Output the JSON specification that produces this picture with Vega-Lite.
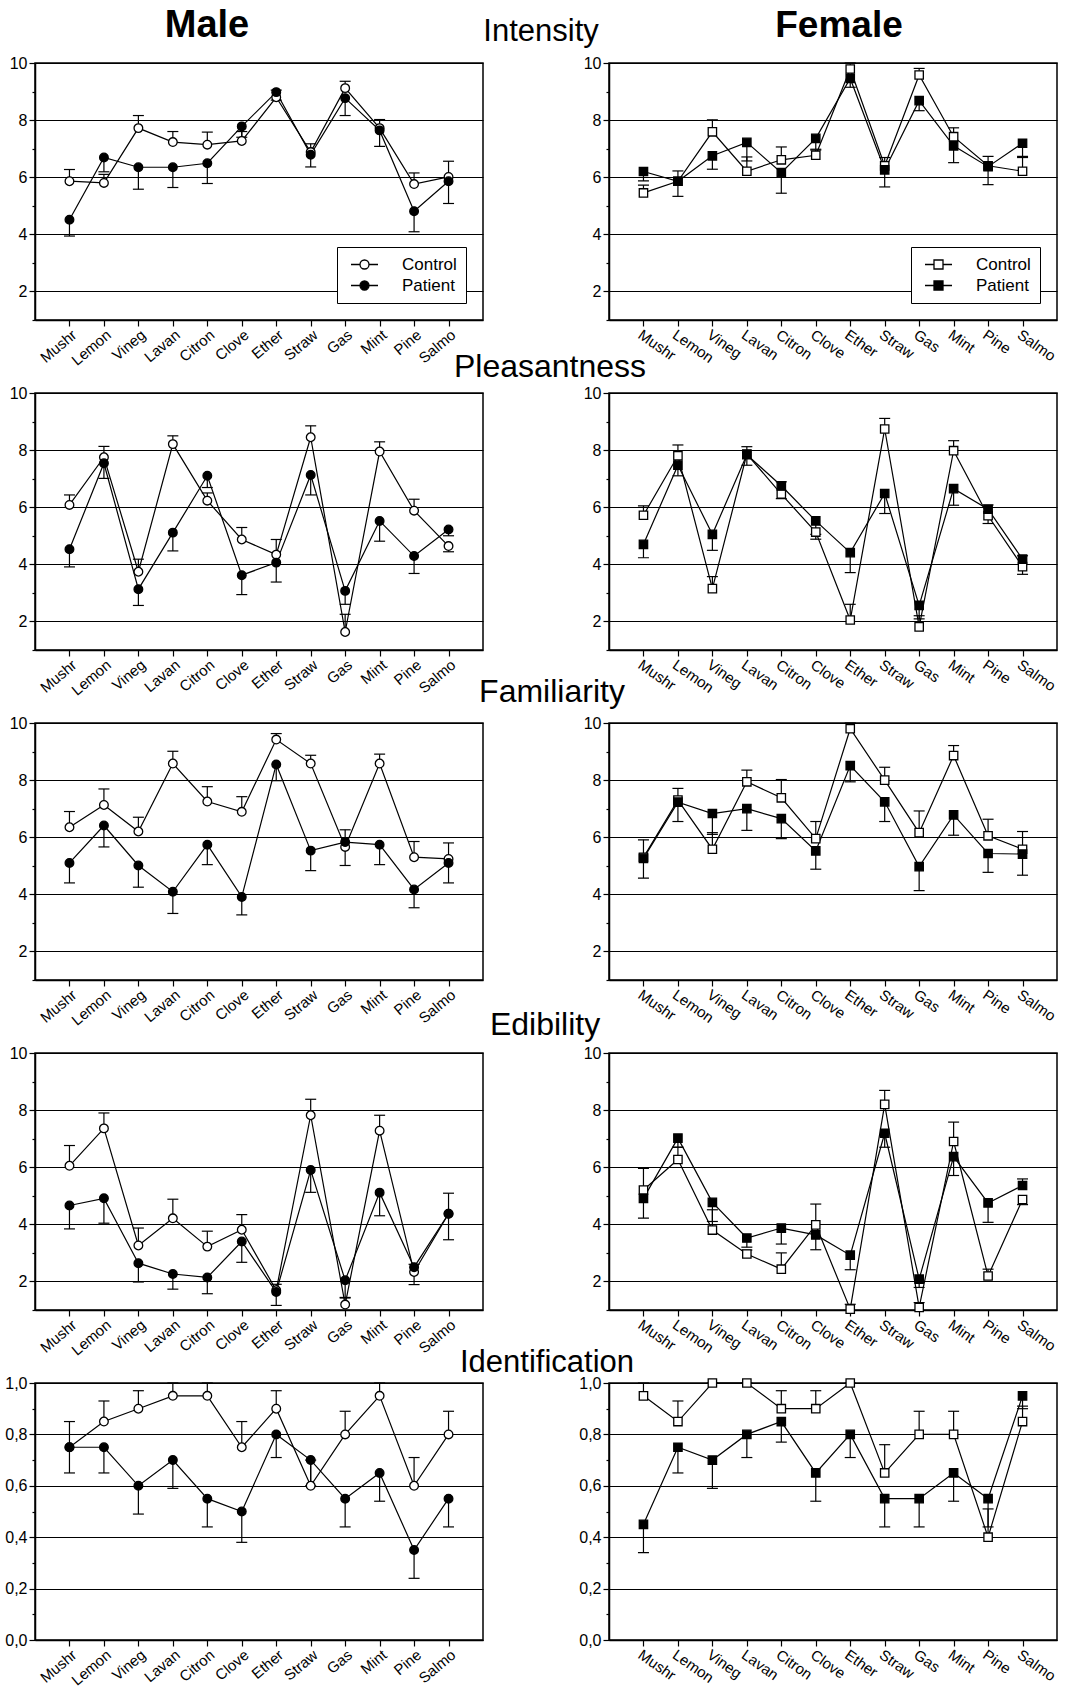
{
"$schema": "https://vega.github.io/schema/vega-lite/v6.json",
"padding": {"left": 4, "top": 6, "right": 0, "bottom": 0},
"background": "white",
"title": {"text": "Intensity", "fontSize": 31, "fontWeight": "normal", "anchor": "middle", "dy": 46, "dx": 10, "color": "black"},
"datasets": {"d": [
{"attr":"Intensity","sex":"Male","group":"Control","odor":"Mushr","value":5.86,"err":6.27},
{"attr":"Intensity","sex":"Male","group":"Control","odor":"Lemon","value":5.80,"err":6.1},
{"attr":"Intensity","sex":"Male","group":"Control","odor":"Vineg","value":7.72,"err":8.16},
{"attr":"Intensity","sex":"Male","group":"Control","odor":"Lavan","value":7.23,"err":7.6},
{"attr":"Intensity","sex":"Male","group":"Control","odor":"Citron","value":7.14,"err":7.58},
{"attr":"Intensity","sex":"Male","group":"Control","odor":"Clove","value":7.27,"err":7.6},
{"attr":"Intensity","sex":"Male","group":"Control","odor":"Ether","value":8.8,"err":9.05},
{"attr":"Intensity","sex":"Male","group":"Control","odor":"Straw","value":6.88,"err":7.17},
{"attr":"Intensity","sex":"Male","group":"Control","odor":"Gas","value":9.12,"err":9.36},
{"attr":"Intensity","sex":"Male","group":"Control","odor":"Mint","value":7.72,"err":8.02},
{"attr":"Intensity","sex":"Male","group":"Control","odor":"Pine","value":5.76,"err":6.15},
{"attr":"Intensity","sex":"Male","group":"Control","odor":"Salmo","value":6.01,"err":6.56},
{"attr":"Intensity","sex":"Male","group":"Patient","odor":"Mushr","value":4.51,"err":3.94},
{"attr":"Intensity","sex":"Male","group":"Patient","odor":"Lemon","value":6.69,"err":6.19},
{"attr":"Intensity","sex":"Male","group":"Patient","odor":"Vineg","value":6.35,"err":5.58},
{"attr":"Intensity","sex":"Male","group":"Patient","odor":"Lavan","value":6.35,"err":5.64},
{"attr":"Intensity","sex":"Male","group":"Patient","odor":"Citron","value":6.49,"err":5.78},
{"attr":"Intensity","sex":"Male","group":"Patient","odor":"Clove","value":7.78,"err":7.4},
{"attr":"Intensity","sex":"Male","group":"Patient","odor":"Ether","value":8.98,"err":8.7},
{"attr":"Intensity","sex":"Male","group":"Patient","odor":"Straw","value":6.79,"err":6.36},
{"attr":"Intensity","sex":"Male","group":"Patient","odor":"Gas","value":8.77,"err":8.16},
{"attr":"Intensity","sex":"Male","group":"Patient","odor":"Mint","value":7.64,"err":7.08},
{"attr":"Intensity","sex":"Male","group":"Patient","odor":"Pine","value":4.81,"err":4.09},
{"attr":"Intensity","sex":"Male","group":"Patient","odor":"Salmo","value":5.86,"err":5.08},
{"attr":"Intensity","sex":"Female","group":"Control","odor":"Mushr","value":5.45,"err":5.72},
{"attr":"Intensity","sex":"Female","group":"Control","odor":"Lemon","value":5.86,"err":6.22},
{"attr":"Intensity","sex":"Female","group":"Control","odor":"Vineg","value":7.59,"err":8.01},
{"attr":"Intensity","sex":"Female","group":"Control","odor":"Lavan","value":6.21,"err":6.71},
{"attr":"Intensity","sex":"Female","group":"Control","odor":"Citron","value":6.61,"err":7.06},
{"attr":"Intensity","sex":"Female","group":"Control","odor":"Clove","value":6.77,"err":6.95},
{"attr":"Intensity","sex":"Female","group":"Control","odor":"Ether","value":9.79,"err":10},
{"attr":"Intensity","sex":"Female","group":"Control","odor":"Straw","value":6.40,"err":6.69},
{"attr":"Intensity","sex":"Female","group":"Control","odor":"Gas","value":9.58,"err":9.81},
{"attr":"Intensity","sex":"Female","group":"Control","odor":"Mint","value":7.42,"err":7.73},
{"attr":"Intensity","sex":"Female","group":"Control","odor":"Pine","value":6.40,"err":6.73},
{"attr":"Intensity","sex":"Female","group":"Control","odor":"Salmo","value":6.21,"err":6.73},
{"attr":"Intensity","sex":"Female","group":"Patient","odor":"Mushr","value":6.2,"err":5.87},
{"attr":"Intensity","sex":"Female","group":"Patient","odor":"Lemon","value":5.86,"err":5.33},
{"attr":"Intensity","sex":"Female","group":"Patient","odor":"Vineg","value":6.75,"err":6.28},
{"attr":"Intensity","sex":"Female","group":"Patient","odor":"Lavan","value":7.22,"err":6.57},
{"attr":"Intensity","sex":"Female","group":"Patient","odor":"Citron","value":6.16,"err":5.44},
{"attr":"Intensity","sex":"Female","group":"Patient","odor":"Clove","value":7.36,"err":6.98},
{"attr":"Intensity","sex":"Female","group":"Patient","odor":"Ether","value":9.46,"err":9.15},
{"attr":"Intensity","sex":"Female","group":"Patient","odor":"Straw","value":6.26,"err":5.66},
{"attr":"Intensity","sex":"Female","group":"Patient","odor":"Gas","value":8.68,"err":8.33},
{"attr":"Intensity","sex":"Female","group":"Patient","odor":"Mint","value":7.10,"err":6.51},
{"attr":"Intensity","sex":"Female","group":"Patient","odor":"Pine","value":6.37,"err":5.74},
{"attr":"Intensity","sex":"Female","group":"Patient","odor":"Salmo","value":7.19,"err":6.69},
{"attr":"Pleasantness","sex":"Male","group":"Control","odor":"Mushr","value":6.08,"err":6.43},
{"attr":"Pleasantness","sex":"Male","group":"Control","odor":"Lemon","value":7.75,"err":8.13},
{"attr":"Pleasantness","sex":"Male","group":"Control","odor":"Vineg","value":3.74,"err":4.18},
{"attr":"Pleasantness","sex":"Male","group":"Control","odor":"Lavan","value":8.21,"err":8.50},
{"attr":"Pleasantness","sex":"Male","group":"Control","odor":"Citron","value":6.23,"err":6.5},
{"attr":"Pleasantness","sex":"Male","group":"Control","odor":"Clove","value":4.87,"err":5.29},
{"attr":"Pleasantness","sex":"Male","group":"Control","odor":"Ether","value":4.34,"err":4.87},
{"attr":"Pleasantness","sex":"Male","group":"Control","odor":"Straw","value":8.45,"err":8.85},
{"attr":"Pleasantness","sex":"Male","group":"Control","odor":"Gas","value":1.63,"err":2.25},
{"attr":"Pleasantness","sex":"Male","group":"Control","odor":"Mint","value":7.95,"err":8.29},
{"attr":"Pleasantness","sex":"Male","group":"Control","odor":"Pine","value":5.88,"err":6.28},
{"attr":"Pleasantness","sex":"Male","group":"Control","odor":"Salmo","value":4.64,"err":4.44},
{"attr":"Pleasantness","sex":"Male","group":"Patient","odor":"Mushr","value":4.53,"err":3.91},
{"attr":"Pleasantness","sex":"Male","group":"Patient","odor":"Lemon","value":7.54,"err":7.01},
{"attr":"Pleasantness","sex":"Male","group":"Patient","odor":"Vineg","value":3.13,"err":2.56},
{"attr":"Pleasantness","sex":"Male","group":"Patient","odor":"Lavan","value":5.11,"err":4.47},
{"attr":"Pleasantness","sex":"Male","group":"Patient","odor":"Citron","value":7.10,"err":6.69},
{"attr":"Pleasantness","sex":"Male","group":"Patient","odor":"Clove","value":3.62,"err":2.94},
{"attr":"Pleasantness","sex":"Male","group":"Patient","odor":"Ether","value":4.06,"err":3.38},
{"attr":"Pleasantness","sex":"Male","group":"Patient","odor":"Straw","value":7.13,"err":6.43},
{"attr":"Pleasantness","sex":"Male","group":"Patient","odor":"Gas","value":3.07,"err":2.6},
{"attr":"Pleasantness","sex":"Male","group":"Patient","odor":"Mint","value":5.52,"err":4.81},
{"attr":"Pleasantness","sex":"Male","group":"Patient","odor":"Pine","value":4.29,"err":3.68},
{"attr":"Pleasantness","sex":"Male","group":"Patient","odor":"Salmo","value":5.22,"err":5.0},
{"attr":"Pleasantness","sex":"Female","group":"Control","odor":"Mushr","value":5.72,"err":6.05},
{"attr":"Pleasantness","sex":"Female","group":"Control","odor":"Lemon","value":7.80,"err":8.18},
{"attr":"Pleasantness","sex":"Female","group":"Control","odor":"Vineg","value":3.15,"err":3.57},
{"attr":"Pleasantness","sex":"Female","group":"Control","odor":"Lavan","value":7.86,"err":8.12},
{"attr":"Pleasantness","sex":"Female","group":"Control","odor":"Citron","value":6.46,"err":6.89},
{"attr":"Pleasantness","sex":"Female","group":"Control","odor":"Clove","value":5.13,"err":4.88},
{"attr":"Pleasantness","sex":"Female","group":"Control","odor":"Ether","value":2.05,"err":2.6},
{"attr":"Pleasantness","sex":"Female","group":"Control","odor":"Straw","value":8.74,"err":9.11},
{"attr":"Pleasantness","sex":"Female","group":"Control","odor":"Gas","value":1.81,"err":2.2},
{"attr":"Pleasantness","sex":"Female","group":"Control","odor":"Mint","value":7.98,"err":8.33},
{"attr":"Pleasantness","sex":"Female","group":"Control","odor":"Pine","value":5.70,"err":6.08},
{"attr":"Pleasantness","sex":"Female","group":"Control","odor":"Salmo","value":3.92,"err":3.65},
{"attr":"Pleasantness","sex":"Female","group":"Patient","odor":"Mushr","value":4.70,"err":4.23},
{"attr":"Pleasantness","sex":"Female","group":"Patient","odor":"Lemon","value":7.47,"err":7.1},
{"attr":"Pleasantness","sex":"Female","group":"Patient","odor":"Vineg","value":5.05,"err":4.49},
{"attr":"Pleasantness","sex":"Female","group":"Patient","odor":"Lavan","value":7.84,"err":7.47},
{"attr":"Pleasantness","sex":"Female","group":"Patient","odor":"Citron","value":6.75,"err":6.30},
{"attr":"Pleasantness","sex":"Female","group":"Patient","odor":"Clove","value":5.52,"err":5.05},
{"attr":"Pleasantness","sex":"Female","group":"Patient","odor":"Ether","value":4.41,"err":3.71},
{"attr":"Pleasantness","sex":"Female","group":"Patient","odor":"Straw","value":6.48,"err":5.78},
{"attr":"Pleasantness","sex":"Female","group":"Patient","odor":"Gas","value":2.56,"err":2.09},
{"attr":"Pleasantness","sex":"Female","group":"Patient","odor":"Mint","value":6.65,"err":6.07},
{"attr":"Pleasantness","sex":"Female","group":"Patient","odor":"Pine","value":5.93,"err":5.43},
{"attr":"Pleasantness","sex":"Female","group":"Patient","odor":"Salmo","value":4.18,"err":4.3},
{"attr":"Familiarity","sex":"Male","group":"Control","odor":"Mushr","value":6.35,"err":6.90},
{"attr":"Familiarity","sex":"Male","group":"Control","odor":"Lemon","value":7.13,"err":7.69},
{"attr":"Familiarity","sex":"Male","group":"Control","odor":"Vineg","value":6.20,"err":6.70},
{"attr":"Familiarity","sex":"Male","group":"Control","odor":"Lavan","value":8.58,"err":9.01},
{"attr":"Familiarity","sex":"Male","group":"Control","odor":"Citron","value":7.25,"err":7.77},
{"attr":"Familiarity","sex":"Male","group":"Control","odor":"Clove","value":6.89,"err":7.42},
{"attr":"Familiarity","sex":"Male","group":"Control","odor":"Ether","value":9.42,"err":9.63},
{"attr":"Familiarity","sex":"Male","group":"Control","odor":"Straw","value":8.58,"err":8.87},
{"attr":"Familiarity","sex":"Male","group":"Control","odor":"Gas","value":5.66,"err":6.26},
{"attr":"Familiarity","sex":"Male","group":"Control","odor":"Mint","value":8.58,"err":8.91},
{"attr":"Familiarity","sex":"Male","group":"Control","odor":"Pine","value":5.30,"err":5.85},
{"attr":"Familiarity","sex":"Male","group":"Control","odor":"Salmo","value":5.24,"err":5.80},
{"attr":"Familiarity","sex":"Male","group":"Patient","odor":"Mushr","value":5.10,"err":4.40},
{"attr":"Familiarity","sex":"Male","group":"Patient","odor":"Lemon","value":6.41,"err":5.66},
{"attr":"Familiarity","sex":"Male","group":"Patient","odor":"Vineg","value":5.01,"err":4.25},
{"attr":"Familiarity","sex":"Male","group":"Patient","odor":"Lavan","value":4.09,"err":3.33},
{"attr":"Familiarity","sex":"Male","group":"Patient","odor":"Citron","value":5.74,"err":5.04},
{"attr":"Familiarity","sex":"Male","group":"Patient","odor":"Clove","value":3.91,"err":3.28},
{"attr":"Familiarity","sex":"Male","group":"Patient","odor":"Ether","value":8.55,"err":7.98},
{"attr":"Familiarity","sex":"Male","group":"Patient","odor":"Straw","value":5.53,"err":4.83},
{"attr":"Familiarity","sex":"Male","group":"Patient","odor":"Gas","value":5.83,"err":5.01},
{"attr":"Familiarity","sex":"Male","group":"Patient","odor":"Mint","value":5.74,"err":5.04},
{"attr":"Familiarity","sex":"Male","group":"Patient","odor":"Pine","value":4.17,"err":3.53},
{"attr":"Familiarity","sex":"Male","group":"Patient","odor":"Salmo","value":5.10,"err":4.40},
{"attr":"Familiarity","sex":"Female","group":"Control","odor":"Mushr","value":5.3,"err":5.91},
{"attr":"Familiarity","sex":"Female","group":"Control","odor":"Lemon","value":7.3,"err":7.71},
{"attr":"Familiarity","sex":"Female","group":"Control","odor":"Vineg","value":5.58,"err":6.16},
{"attr":"Familiarity","sex":"Female","group":"Control","odor":"Lavan","value":7.94,"err":8.35},
{"attr":"Familiarity","sex":"Female","group":"Control","odor":"Citron","value":7.38,"err":8.02},
{"attr":"Familiarity","sex":"Female","group":"Control","odor":"Clove","value":5.95,"err":6.55},
{"attr":"Familiarity","sex":"Female","group":"Control","odor":"Ether","value":9.80,"err":10},
{"attr":"Familiarity","sex":"Female","group":"Control","odor":"Straw","value":8.0,"err":8.45},
{"attr":"Familiarity","sex":"Female","group":"Control","odor":"Gas","value":6.16,"err":6.92},
{"attr":"Familiarity","sex":"Female","group":"Control","odor":"Mint","value":8.86,"err":9.21},
{"attr":"Familiarity","sex":"Female","group":"Control","odor":"Pine","value":6.05,"err":6.63},
{"attr":"Familiarity","sex":"Female","group":"Control","odor":"Salmo","value":5.58,"err":6.20},
{"attr":"Familiarity","sex":"Female","group":"Patient","odor":"Mushr","value":5.26,"err":4.57},
{"attr":"Familiarity","sex":"Female","group":"Patient","odor":"Lemon","value":7.23,"err":6.55},
{"attr":"Familiarity","sex":"Female","group":"Patient","odor":"Vineg","value":6.83,"err":6.1},
{"attr":"Familiarity","sex":"Female","group":"Patient","odor":"Lavan","value":7.0,"err":6.24},
{"attr":"Familiarity","sex":"Female","group":"Patient","odor":"Citron","value":6.65,"err":5.95},
{"attr":"Familiarity","sex":"Female","group":"Patient","odor":"Clove","value":5.52,"err":4.88},
{"attr":"Familiarity","sex":"Female","group":"Patient","odor":"Ether","value":8.51,"err":7.94},
{"attr":"Familiarity","sex":"Female","group":"Patient","odor":"Straw","value":7.24,"err":6.55},
{"attr":"Familiarity","sex":"Female","group":"Patient","odor":"Gas","value":4.97,"err":4.13},
{"attr":"Familiarity","sex":"Female","group":"Patient","odor":"Mint","value":6.78,"err":6.07},
{"attr":"Familiarity","sex":"Female","group":"Patient","odor":"Pine","value":5.43,"err":4.77},
{"attr":"Familiarity","sex":"Female","group":"Patient","odor":"Salmo","value":5.41,"err":4.67},
{"attr":"Edibility","sex":"Male","group":"Control","odor":"Mushr","value":6.05,"err":6.76},
{"attr":"Edibility","sex":"Male","group":"Control","odor":"Lemon","value":7.36,"err":7.90},
{"attr":"Edibility","sex":"Male","group":"Control","odor":"Vineg","value":3.26,"err":3.87},
{"attr":"Edibility","sex":"Male","group":"Control","odor":"Lavan","value":4.21,"err":4.88},
{"attr":"Edibility","sex":"Male","group":"Control","odor":"Citron","value":3.22,"err":3.76},
{"attr":"Edibility","sex":"Male","group":"Control","odor":"Clove","value":3.81,"err":4.34},
{"attr":"Edibility","sex":"Male","group":"Control","odor":"Ether","value":1.69,"err":1.9},
{"attr":"Edibility","sex":"Male","group":"Control","odor":"Straw","value":7.82,"err":8.38},
{"attr":"Edibility","sex":"Male","group":"Control","odor":"Gas","value":1.19,"err":1.42},
{"attr":"Edibility","sex":"Male","group":"Control","odor":"Mint","value":7.28,"err":7.82},
{"attr":"Edibility","sex":"Male","group":"Control","odor":"Pine","value":2.33,"err":2.6},
{"attr":"Edibility","sex":"Male","group":"Control","odor":"Salmo","value":4.37,"err":5.09},
{"attr":"Edibility","sex":"Male","group":"Patient","odor":"Mushr","value":4.66,"err":3.84},
{"attr":"Edibility","sex":"Male","group":"Patient","odor":"Lemon","value":4.91,"err":4.04},
{"attr":"Edibility","sex":"Male","group":"Patient","odor":"Vineg","value":2.64,"err":1.98},
{"attr":"Edibility","sex":"Male","group":"Patient","odor":"Lavan","value":2.26,"err":1.73},
{"attr":"Edibility","sex":"Male","group":"Patient","odor":"Citron","value":2.14,"err":1.57},
{"attr":"Edibility","sex":"Male","group":"Patient","odor":"Clove","value":3.40,"err":2.67},
{"attr":"Edibility","sex":"Male","group":"Patient","odor":"Ether","value":1.63,"err":1.16},
{"attr":"Edibility","sex":"Male","group":"Patient","odor":"Straw","value":5.90,"err":5.12},
{"attr":"Edibility","sex":"Male","group":"Patient","odor":"Gas","value":2.04,"err":1.44},
{"attr":"Edibility","sex":"Male","group":"Patient","odor":"Mint","value":5.11,"err":4.30},
{"attr":"Edibility","sex":"Male","group":"Patient","odor":"Pine","value":2.50,"err":1.89},
{"attr":"Edibility","sex":"Male","group":"Patient","odor":"Salmo","value":4.37,"err":3.46},
{"attr":"Edibility","sex":"Female","group":"Control","odor":"Mushr","value":5.20,"err":5.96},
{"attr":"Edibility","sex":"Female","group":"Control","odor":"Lemon","value":6.27,"err":6.7},
{"attr":"Edibility","sex":"Female","group":"Control","odor":"Vineg","value":3.80,"err":4.51},
{"attr":"Edibility","sex":"Female","group":"Control","odor":"Lavan","value":2.96,"err":3.1},
{"attr":"Edibility","sex":"Female","group":"Control","odor":"Citron","value":2.43,"err":3.0},
{"attr":"Edibility","sex":"Female","group":"Control","odor":"Clove","value":3.98,"err":4.71},
{"attr":"Edibility","sex":"Female","group":"Control","odor":"Ether","value":1.03,"err":1.2},
{"attr":"Edibility","sex":"Female","group":"Control","odor":"Straw","value":8.20,"err":8.69},
{"attr":"Edibility","sex":"Female","group":"Control","odor":"Gas","value":1.09,"err":1.26},
{"attr":"Edibility","sex":"Female","group":"Control","odor":"Mint","value":6.90,"err":7.58},
{"attr":"Edibility","sex":"Female","group":"Control","odor":"Pine","value":2.19,"err":2.43},
{"attr":"Edibility","sex":"Female","group":"Control","odor":"Salmo","value":4.87,"err":4.69},
{"attr":"Edibility","sex":"Female","group":"Patient","odor":"Mushr","value":4.91,"err":4.22},
{"attr":"Edibility","sex":"Female","group":"Patient","odor":"Lemon","value":7.02,"err":6.7},
{"attr":"Edibility","sex":"Female","group":"Patient","odor":"Vineg","value":4.77,"err":4.1},
{"attr":"Edibility","sex":"Female","group":"Patient","odor":"Lavan","value":3.52,"err":3.2},
{"attr":"Edibility","sex":"Female","group":"Patient","odor":"Citron","value":3.87,"err":3.31},
{"attr":"Edibility","sex":"Female","group":"Patient","odor":"Clove","value":3.63,"err":3.11},
{"attr":"Edibility","sex":"Female","group":"Patient","odor":"Ether","value":2.92,"err":2.41},
{"attr":"Edibility","sex":"Female","group":"Patient","odor":"Straw","value":7.19,"err":6.70},
{"attr":"Edibility","sex":"Female","group":"Patient","odor":"Gas","value":2.08,"err":1.79},
{"attr":"Edibility","sex":"Female","group":"Patient","odor":"Mint","value":6.37,"err":5.71},
{"attr":"Edibility","sex":"Female","group":"Patient","odor":"Pine","value":4.75,"err":4.07},
{"attr":"Edibility","sex":"Female","group":"Patient","odor":"Salmo","value":5.36,"err":5.59},
{"attr":"Identification","sex":"Male","group":"Control","odor":"Mushr","value":0.75,"err":0.85},
{"attr":"Identification","sex":"Male","group":"Control","odor":"Lemon","value":0.85,"err":0.93},
{"attr":"Identification","sex":"Male","group":"Control","odor":"Vineg","value":0.90,"err":0.97},
{"attr":"Identification","sex":"Male","group":"Control","odor":"Lavan","value":0.95,"err":1.0},
{"attr":"Identification","sex":"Male","group":"Control","odor":"Citron","value":0.95,"err":1.0},
{"attr":"Identification","sex":"Male","group":"Control","odor":"Clove","value":0.75,"err":0.85},
{"attr":"Identification","sex":"Male","group":"Control","odor":"Ether","value":0.90,"err":0.97},
{"attr":"Identification","sex":"Male","group":"Control","odor":"Straw","value":0.60,"err":0.7},
{"attr":"Identification","sex":"Male","group":"Control","odor":"Gas","value":0.80,"err":0.89},
{"attr":"Identification","sex":"Male","group":"Control","odor":"Mint","value":0.95,"err":1.0},
{"attr":"Identification","sex":"Male","group":"Control","odor":"Pine","value":0.60,"err":0.71},
{"attr":"Identification","sex":"Male","group":"Control","odor":"Salmo","value":0.80,"err":0.89},
{"attr":"Identification","sex":"Male","group":"Patient","odor":"Mushr","value":0.75,"err":0.65},
{"attr":"Identification","sex":"Male","group":"Patient","odor":"Lemon","value":0.75,"err":0.65},
{"attr":"Identification","sex":"Male","group":"Patient","odor":"Vineg","value":0.60,"err":0.49},
{"attr":"Identification","sex":"Male","group":"Patient","odor":"Lavan","value":0.70,"err":0.59},
{"attr":"Identification","sex":"Male","group":"Patient","odor":"Citron","value":0.55,"err":0.44},
{"attr":"Identification","sex":"Male","group":"Patient","odor":"Clove","value":0.50,"err":0.38},
{"attr":"Identification","sex":"Male","group":"Patient","odor":"Ether","value":0.80,"err":0.71},
{"attr":"Identification","sex":"Male","group":"Patient","odor":"Straw","value":0.70,"err":0.6},
{"attr":"Identification","sex":"Male","group":"Patient","odor":"Gas","value":0.55,"err":0.44},
{"attr":"Identification","sex":"Male","group":"Patient","odor":"Mint","value":0.65,"err":0.54},
{"attr":"Identification","sex":"Male","group":"Patient","odor":"Pine","value":0.35,"err":0.24},
{"attr":"Identification","sex":"Male","group":"Patient","odor":"Salmo","value":0.55,"err":0.44},
{"attr":"Identification","sex":"Female","group":"Control","odor":"Mushr","value":0.95,"err":1.0},
{"attr":"Identification","sex":"Female","group":"Control","odor":"Lemon","value":0.85,"err":0.93},
{"attr":"Identification","sex":"Female","group":"Control","odor":"Vineg","value":1.0,"err":1.0},
{"attr":"Identification","sex":"Female","group":"Control","odor":"Lavan","value":1.0,"err":1.0},
{"attr":"Identification","sex":"Female","group":"Control","odor":"Citron","value":0.90,"err":0.97},
{"attr":"Identification","sex":"Female","group":"Control","odor":"Clove","value":0.90,"err":0.97},
{"attr":"Identification","sex":"Female","group":"Control","odor":"Ether","value":1.0,"err":1.0},
{"attr":"Identification","sex":"Female","group":"Control","odor":"Straw","value":0.65,"err":0.76},
{"attr":"Identification","sex":"Female","group":"Control","odor":"Gas","value":0.80,"err":0.89},
{"attr":"Identification","sex":"Female","group":"Control","odor":"Mint","value":0.80,"err":0.89},
{"attr":"Identification","sex":"Female","group":"Control","odor":"Pine","value":0.40,"err":0.51},
{"attr":"Identification","sex":"Female","group":"Control","odor":"Salmo","value":0.85,"err":0.91},
{"attr":"Identification","sex":"Female","group":"Patient","odor":"Mushr","value":0.45,"err":0.34},
{"attr":"Identification","sex":"Female","group":"Patient","odor":"Lemon","value":0.75,"err":0.65},
{"attr":"Identification","sex":"Female","group":"Patient","odor":"Vineg","value":0.70,"err":0.59},
{"attr":"Identification","sex":"Female","group":"Patient","odor":"Lavan","value":0.80,"err":0.71},
{"attr":"Identification","sex":"Female","group":"Patient","odor":"Citron","value":0.85,"err":0.77},
{"attr":"Identification","sex":"Female","group":"Patient","odor":"Clove","value":0.65,"err":0.54},
{"attr":"Identification","sex":"Female","group":"Patient","odor":"Ether","value":0.80,"err":0.71},
{"attr":"Identification","sex":"Female","group":"Patient","odor":"Straw","value":0.55,"err":0.44},
{"attr":"Identification","sex":"Female","group":"Patient","odor":"Gas","value":0.55,"err":0.44},
{"attr":"Identification","sex":"Female","group":"Patient","odor":"Mint","value":0.65,"err":0.54},
{"attr":"Identification","sex":"Female","group":"Patient","odor":"Pine","value":0.55,"err":0.44},
{"attr":"Identification","sex":"Female","group":"Patient","odor":"Salmo","value":0.95,"err":0.9}
]},
"columns": 2,
"spacing": {"row": 73, "column": 126},
"bounds": "flush",
"resolve": {"scale": {"x": "independent", "y": "independent", "fill": "independent"}, "legend": {"fill": "independent"}},
"concat": [
{"width": 448, "height": 257,
 "title": {"text": "Male", "fontSize": 38, "fontWeight": "bold", "anchor": "middle", "dx": -52, "offset": -20, "baseline": "alphabetic"},
 "data": {"name": "d"},
 "transform": [{"filter": "datum.attr === 'Intensity' && datum.sex === 'Male'"}],
 "encoding": {
  "x": {"field": "odor", "type": "nominal", "sort": ["Mushr","Lemon","Vineg","Lavan","Citron","Clove","Ether","Straw","Gas","Mint","Pine","Salmo"], "scale": {"type": "point", "padding": 1}, "axis": {"title": null, "labelAngle": -40}},
  "y": {"field": "value", "type": "quantitative", "title": null, "scale": {"domain": [1, 10], "nice": false, "zero": false},
   "axis": {"values": [1,2,3,4,5,6,7,8,9,10], "labelExpr": "datum.value % 2 === 0 ? datum.label : ''", "grid": true, "gridOpacity": {"condition": {"test": "datum.value % 2 === 0", "value": 1}, "value": 0}, "tickSize": {"condition": {"test": "datum.value % 2 === 0", "value": 6}, "value": 3}}}
 },
 "layer": [
  {"mark": {"type": "rule", "color": "black", "strokeWidth": 1.2}, "encoding": {"y2": {"field": "err"}, "detail": {"field": "group"}}},
  {"mark": {"type": "tick", "color": "black", "thickness": 1.2, "size": 11, "opacity": 1}, "encoding": {"y": {"field": "err", "type": "quantitative", "title": null}, "detail": {"field": "group"}}},
  {"mark": {"type": "line", "color": "black", "strokeWidth": 1.2}, "encoding": {"detail": {"field": "group"}}},
  {"mark": {"type": "point", "shape": "circle", "filled": true, "stroke": "black", "strokeWidth": 1.3, "size": 75, "opacity": 1},
   "encoding": {"fill": {"field": "group", "type": "nominal", "scale": {"domain": ["Control", "Patient"], "range": ["white", "black"]},
    "legend": {"orient": "bottom-right", "title": null, "offset": 17, "padding": 9, "strokeColor": "black", "fillColor": "white", "labelFontSize": 17, "labelColor": "black", "symbolType": "M-3,0H-1M1,0H3M1,0A1,1,0,1,1,-1,0A1,1,0,1,1,1,0Z", "symbolSize": 81, "symbolStrokeColor": "black", "symbolStrokeWidth": 1.3, "symbolOffset": 10, "labelOffset": 29, "rowPadding": 3,
     "encode": {"legend": {"update": {"strokeWidth": {"value": 2.5}}}}}}}}
 ]},
{"width": 448, "height": 257,
 "title": {"text": "Female", "fontSize": 37, "fontWeight": "bold", "anchor": "middle", "dx": 6, "offset": -19, "baseline": "alphabetic"},
 "data": {"name": "d"},
 "transform": [{"filter": "datum.attr === 'Intensity' && datum.sex === 'Female'"}],
 "encoding": {
  "x": {"field": "odor", "type": "nominal", "sort": ["Mushr","Lemon","Vineg","Lavan","Citron","Clove","Ether","Straw","Gas","Mint","Pine","Salmo"], "scale": {"type": "point", "padding": 1}, "axis": {"title": null, "labelAngle": 35}},
  "y": {"field": "value", "type": "quantitative", "title": null, "scale": {"domain": [1, 10], "nice": false, "zero": false},
   "axis": {"values": [1,2,3,4,5,6,7,8,9,10], "labelExpr": "datum.value % 2 === 0 ? datum.label : ''", "grid": true, "gridOpacity": {"condition": {"test": "datum.value % 2 === 0", "value": 1}, "value": 0}, "tickSize": {"condition": {"test": "datum.value % 2 === 0", "value": 6}, "value": 3}}}
 },
 "layer": [
  {"mark": {"type": "rule", "color": "black", "strokeWidth": 1.2}, "encoding": {"y2": {"field": "err"}, "detail": {"field": "group"}}},
  {"mark": {"type": "tick", "color": "black", "thickness": 1.2, "size": 11, "opacity": 1}, "encoding": {"y": {"field": "err", "type": "quantitative", "title": null}, "detail": {"field": "group"}}},
  {"mark": {"type": "line", "color": "black", "strokeWidth": 1.2}, "encoding": {"detail": {"field": "group"}}},
  {"mark": {"type": "point", "shape": "square", "filled": true, "stroke": "black", "strokeWidth": 1.3, "size": 70, "opacity": 1},
   "encoding": {"fill": {"field": "group", "type": "nominal", "scale": {"domain": ["Control", "Patient"], "range": ["white", "black"]},
    "legend": {"orient": "bottom-right", "title": null, "offset": 17, "padding": 9, "strokeColor": "black", "fillColor": "white", "labelFontSize": 17, "labelColor": "black", "symbolType": "M-3,0H-1M1,0H3M-1,-1H1V1H-1Z", "symbolSize": 81, "symbolStrokeColor": "black", "symbolStrokeWidth": 1.3, "symbolOffset": 10, "labelOffset": 29, "rowPadding": 3,
     "encode": {"legend": {"update": {"strokeWidth": {"value": 2.5}}}}}}}}
 ]},
{"width": 448, "height": 257,
 "title": {"text": "Pleasantness", "fontSize": 32, "fontWeight": "normal", "anchor": "end", "align": "center", "dx": 67, "offset": -24, "baseline": "alphabetic"},
 "data": {"name": "d"},
 "transform": [{"filter": "datum.attr === 'Pleasantness' && datum.sex === 'Male'"}],
 "encoding": {
  "x": {"field": "odor", "type": "nominal", "sort": ["Mushr","Lemon","Vineg","Lavan","Citron","Clove","Ether","Straw","Gas","Mint","Pine","Salmo"], "scale": {"type": "point", "padding": 1}, "axis": {"title": null, "labelAngle": -40}},
  "y": {"field": "value", "type": "quantitative", "title": null, "scale": {"domain": [1, 10], "nice": false, "zero": false},
   "axis": {"values": [1,2,3,4,5,6,7,8,9,10], "labelExpr": "datum.value % 2 === 0 ? datum.label : ''", "grid": true, "gridOpacity": {"condition": {"test": "datum.value % 2 === 0", "value": 1}, "value": 0}, "tickSize": {"condition": {"test": "datum.value % 2 === 0", "value": 6}, "value": 3}}}
 },
 "layer": [
  {"mark": {"type": "rule", "color": "black", "strokeWidth": 1.2}, "encoding": {"y2": {"field": "err"}, "detail": {"field": "group"}}},
  {"mark": {"type": "tick", "color": "black", "thickness": 1.2, "size": 11, "opacity": 1}, "encoding": {"y": {"field": "err", "type": "quantitative", "title": null}, "detail": {"field": "group"}}},
  {"mark": {"type": "line", "color": "black", "strokeWidth": 1.2}, "encoding": {"detail": {"field": "group"}}},
  {"mark": {"type": "point", "shape": "circle", "filled": true, "stroke": "black", "strokeWidth": 1.3, "size": 75, "opacity": 1},
   "encoding": {"fill": {"field": "group", "type": "nominal", "scale": {"domain": ["Control", "Patient"], "range": ["white", "black"]}, "legend": null}}}
 ]},
{"width": 448, "height": 257,
 "data": {"name": "d"},
 "transform": [{"filter": "datum.attr === 'Pleasantness' && datum.sex === 'Female'"}],
 "encoding": {
  "x": {"field": "odor", "type": "nominal", "sort": ["Mushr","Lemon","Vineg","Lavan","Citron","Clove","Ether","Straw","Gas","Mint","Pine","Salmo"], "scale": {"type": "point", "padding": 1}, "axis": {"title": null, "labelAngle": 35}},
  "y": {"field": "value", "type": "quantitative", "title": null, "scale": {"domain": [1, 10], "nice": false, "zero": false},
   "axis": {"values": [1,2,3,4,5,6,7,8,9,10], "labelExpr": "datum.value % 2 === 0 ? datum.label : ''", "grid": true, "gridOpacity": {"condition": {"test": "datum.value % 2 === 0", "value": 1}, "value": 0}, "tickSize": {"condition": {"test": "datum.value % 2 === 0", "value": 6}, "value": 3}}}
 },
 "layer": [
  {"mark": {"type": "rule", "color": "black", "strokeWidth": 1.2}, "encoding": {"y2": {"field": "err"}, "detail": {"field": "group"}}},
  {"mark": {"type": "tick", "color": "black", "thickness": 1.2, "size": 11, "opacity": 1}, "encoding": {"y": {"field": "err", "type": "quantitative", "title": null}, "detail": {"field": "group"}}},
  {"mark": {"type": "line", "color": "black", "strokeWidth": 1.2}, "encoding": {"detail": {"field": "group"}}},
  {"mark": {"type": "point", "shape": "square", "filled": true, "stroke": "black", "strokeWidth": 1.3, "size": 70, "opacity": 1},
   "encoding": {"fill": {"field": "group", "type": "nominal", "scale": {"domain": ["Control", "Patient"], "range": ["white", "black"]}, "legend": null}}}
 ]},
{"width": 448, "height": 257,
 "title": {"text": "Familiarity", "fontSize": 32, "fontWeight": "normal", "anchor": "end", "align": "center", "dx": 69, "offset": -19, "baseline": "alphabetic"},
 "data": {"name": "d"},
 "transform": [{"filter": "datum.attr === 'Familiarity' && datum.sex === 'Male'"}],
 "encoding": {
  "x": {"field": "odor", "type": "nominal", "sort": ["Mushr","Lemon","Vineg","Lavan","Citron","Clove","Ether","Straw","Gas","Mint","Pine","Salmo"], "scale": {"type": "point", "padding": 1}, "axis": {"title": null, "labelAngle": -40}},
  "y": {"field": "value", "type": "quantitative", "title": null, "scale": {"domain": [1, 10], "nice": false, "zero": false},
   "axis": {"values": [1,2,3,4,5,6,7,8,9,10], "labelExpr": "datum.value % 2 === 0 ? datum.label : ''", "grid": true, "gridOpacity": {"condition": {"test": "datum.value % 2 === 0", "value": 1}, "value": 0}, "tickSize": {"condition": {"test": "datum.value % 2 === 0", "value": 6}, "value": 3}}}
 },
 "layer": [
  {"mark": {"type": "rule", "color": "black", "strokeWidth": 1.2}, "encoding": {"y2": {"field": "err"}, "detail": {"field": "group"}}},
  {"mark": {"type": "tick", "color": "black", "thickness": 1.2, "size": 11, "opacity": 1}, "encoding": {"y": {"field": "err", "type": "quantitative", "title": null}, "detail": {"field": "group"}}},
  {"mark": {"type": "line", "color": "black", "strokeWidth": 1.2}, "encoding": {"detail": {"field": "group"}}},
  {"mark": {"type": "point", "shape": "circle", "filled": true, "stroke": "black", "strokeWidth": 1.3, "size": 75, "opacity": 1},
   "encoding": {"fill": {"field": "group", "type": "nominal", "scale": {"domain": ["Control", "Patient"], "range": ["white", "black"]}, "legend": null}}}
 ]},
{"width": 448, "height": 257,
 "data": {"name": "d"},
 "transform": [{"filter": "datum.attr === 'Familiarity' && datum.sex === 'Female'"}],
 "encoding": {
  "x": {"field": "odor", "type": "nominal", "sort": ["Mushr","Lemon","Vineg","Lavan","Citron","Clove","Ether","Straw","Gas","Mint","Pine","Salmo"], "scale": {"type": "point", "padding": 1}, "axis": {"title": null, "labelAngle": 35}},
  "y": {"field": "value", "type": "quantitative", "title": null, "scale": {"domain": [1, 10], "nice": false, "zero": false},
   "axis": {"values": [1,2,3,4,5,6,7,8,9,10], "labelExpr": "datum.value % 2 === 0 ? datum.label : ''", "grid": true, "gridOpacity": {"condition": {"test": "datum.value % 2 === 0", "value": 1}, "value": 0}, "tickSize": {"condition": {"test": "datum.value % 2 === 0", "value": 6}, "value": 3}}}
 },
 "layer": [
  {"mark": {"type": "rule", "color": "black", "strokeWidth": 1.2}, "encoding": {"y2": {"field": "err"}, "detail": {"field": "group"}}},
  {"mark": {"type": "tick", "color": "black", "thickness": 1.2, "size": 11, "opacity": 1}, "encoding": {"y": {"field": "err", "type": "quantitative", "title": null}, "detail": {"field": "group"}}},
  {"mark": {"type": "line", "color": "black", "strokeWidth": 1.2}, "encoding": {"detail": {"field": "group"}}},
  {"mark": {"type": "point", "shape": "square", "filled": true, "stroke": "black", "strokeWidth": 1.3, "size": 70, "opacity": 1},
   "encoding": {"fill": {"field": "group", "type": "nominal", "scale": {"domain": ["Control", "Patient"], "range": ["white", "black"]}, "legend": null}}}
 ]},
{"width": 448, "height": 257,
 "title": {"text": "Edibility", "fontSize": 32, "fontWeight": "normal", "anchor": "end", "align": "center", "dx": 62, "offset": -22, "baseline": "alphabetic"},
 "data": {"name": "d"},
 "transform": [{"filter": "datum.attr === 'Edibility' && datum.sex === 'Male'"}],
 "encoding": {
  "x": {"field": "odor", "type": "nominal", "sort": ["Mushr","Lemon","Vineg","Lavan","Citron","Clove","Ether","Straw","Gas","Mint","Pine","Salmo"], "scale": {"type": "point", "padding": 1}, "axis": {"title": null, "labelAngle": -40}},
  "y": {"field": "value", "type": "quantitative", "title": null, "scale": {"domain": [1, 10], "nice": false, "zero": false},
   "axis": {"values": [1,2,3,4,5,6,7,8,9,10], "labelExpr": "datum.value % 2 === 0 ? datum.label : ''", "grid": true, "gridOpacity": {"condition": {"test": "datum.value % 2 === 0", "value": 1}, "value": 0}, "tickSize": {"condition": {"test": "datum.value % 2 === 0", "value": 6}, "value": 3}}}
 },
 "layer": [
  {"mark": {"type": "rule", "color": "black", "strokeWidth": 1.2}, "encoding": {"y2": {"field": "err"}, "detail": {"field": "group"}}},
  {"mark": {"type": "tick", "color": "black", "thickness": 1.2, "size": 11, "opacity": 1}, "encoding": {"y": {"field": "err", "type": "quantitative", "title": null}, "detail": {"field": "group"}}},
  {"mark": {"type": "line", "color": "black", "strokeWidth": 1.2}, "encoding": {"detail": {"field": "group"}}},
  {"mark": {"type": "point", "shape": "circle", "filled": true, "stroke": "black", "strokeWidth": 1.3, "size": 75, "opacity": 1},
   "encoding": {"fill": {"field": "group", "type": "nominal", "scale": {"domain": ["Control", "Patient"], "range": ["white", "black"]}, "legend": null}}}
 ]},
{"width": 448, "height": 257,
 "data": {"name": "d"},
 "transform": [{"filter": "datum.attr === 'Edibility' && datum.sex === 'Female'"}],
 "encoding": {
  "x": {"field": "odor", "type": "nominal", "sort": ["Mushr","Lemon","Vineg","Lavan","Citron","Clove","Ether","Straw","Gas","Mint","Pine","Salmo"], "scale": {"type": "point", "padding": 1}, "axis": {"title": null, "labelAngle": 35}},
  "y": {"field": "value", "type": "quantitative", "title": null, "scale": {"domain": [1, 10], "nice": false, "zero": false},
   "axis": {"values": [1,2,3,4,5,6,7,8,9,10], "labelExpr": "datum.value % 2 === 0 ? datum.label : ''", "grid": true, "gridOpacity": {"condition": {"test": "datum.value % 2 === 0", "value": 1}, "value": 0}, "tickSize": {"condition": {"test": "datum.value % 2 === 0", "value": 6}, "value": 3}}}
 },
 "layer": [
  {"mark": {"type": "rule", "color": "black", "strokeWidth": 1.2}, "encoding": {"y2": {"field": "err"}, "detail": {"field": "group"}}},
  {"mark": {"type": "tick", "color": "black", "thickness": 1.2, "size": 11, "opacity": 1}, "encoding": {"y": {"field": "err", "type": "quantitative", "title": null}, "detail": {"field": "group"}}},
  {"mark": {"type": "line", "color": "black", "strokeWidth": 1.2}, "encoding": {"detail": {"field": "group"}}},
  {"mark": {"type": "point", "shape": "square", "filled": true, "stroke": "black", "strokeWidth": 1.3, "size": 70, "opacity": 1},
   "encoding": {"fill": {"field": "group", "type": "nominal", "scale": {"domain": ["Control", "Patient"], "range": ["white", "black"]}, "legend": null}}}
 ]},
{"width": 448, "height": 257,
 "title": {"text": "Identification", "fontSize": 31, "fontWeight": "normal", "anchor": "end", "align": "center", "dx": 64, "offset": -28, "baseline": "alphabetic"},
 "data": {"name": "d"},
 "transform": [{"filter": "datum.attr === 'Identification' && datum.sex === 'Male'"}],
 "encoding": {
  "x": {"field": "odor", "type": "nominal", "sort": ["Mushr","Lemon","Vineg","Lavan","Citron","Clove","Ether","Straw","Gas","Mint","Pine","Salmo"], "scale": {"type": "point", "padding": 1}, "axis": {"title": null, "labelAngle": -40}},
  "y": {"field": "value", "type": "quantitative", "title": null, "scale": {"domain": [0, 1], "nice": false, "zero": false},
   "axis": {"values": [0,0.1,0.2,0.3,0.4,0.5,0.6,0.7,0.8,0.9,1], "labelExpr": "round(datum.value*10) % 2 === 0 ? replace(format(datum.value, '.1f'), '.', ',') : ''", "grid": true, "gridOpacity": {"condition": {"test": "round(datum.value*10) % 2 === 0", "value": 1}, "value": 0}, "tickSize": {"condition": {"test": "round(datum.value*10) % 2 === 0", "value": 6}, "value": 3}}}
 },
 "layer": [
  {"mark": {"type": "rule", "color": "black", "strokeWidth": 1.2}, "encoding": {"y2": {"field": "err"}, "detail": {"field": "group"}}},
  {"mark": {"type": "tick", "color": "black", "thickness": 1.2, "size": 11, "opacity": 1}, "encoding": {"y": {"field": "err", "type": "quantitative", "title": null}, "detail": {"field": "group"}}},
  {"mark": {"type": "line", "color": "black", "strokeWidth": 1.2}, "encoding": {"detail": {"field": "group"}}},
  {"mark": {"type": "point", "shape": "circle", "filled": true, "stroke": "black", "strokeWidth": 1.3, "size": 75, "opacity": 1},
   "encoding": {"fill": {"field": "group", "type": "nominal", "scale": {"domain": ["Control", "Patient"], "range": ["white", "black"]}, "legend": null}}}
 ]},
{"width": 448, "height": 257,
 "data": {"name": "d"},
 "transform": [{"filter": "datum.attr === 'Identification' && datum.sex === 'Female'"}],
 "encoding": {
  "x": {"field": "odor", "type": "nominal", "sort": ["Mushr","Lemon","Vineg","Lavan","Citron","Clove","Ether","Straw","Gas","Mint","Pine","Salmo"], "scale": {"type": "point", "padding": 1}, "axis": {"title": null, "labelAngle": 35}},
  "y": {"field": "value", "type": "quantitative", "title": null, "scale": {"domain": [0, 1], "nice": false, "zero": false},
   "axis": {"values": [0,0.1,0.2,0.3,0.4,0.5,0.6,0.7,0.8,0.9,1], "labelExpr": "round(datum.value*10) % 2 === 0 ? replace(format(datum.value, '.1f'), '.', ',') : ''", "grid": true, "gridOpacity": {"condition": {"test": "round(datum.value*10) % 2 === 0", "value": 1}, "value": 0}, "tickSize": {"condition": {"test": "round(datum.value*10) % 2 === 0", "value": 6}, "value": 3}}}
 },
 "layer": [
  {"mark": {"type": "rule", "color": "black", "strokeWidth": 1.2}, "encoding": {"y2": {"field": "err"}, "detail": {"field": "group"}}},
  {"mark": {"type": "tick", "color": "black", "thickness": 1.2, "size": 11, "opacity": 1}, "encoding": {"y": {"field": "err", "type": "quantitative", "title": null}, "detail": {"field": "group"}}},
  {"mark": {"type": "line", "color": "black", "strokeWidth": 1.2}, "encoding": {"detail": {"field": "group"}}},
  {"mark": {"type": "point", "shape": "square", "filled": true, "stroke": "black", "strokeWidth": 1.3, "size": 70, "opacity": 1},
   "encoding": {"fill": {"field": "group", "type": "nominal", "scale": {"domain": ["Control", "Patient"], "range": ["white", "black"]}, "legend": null}}}
 ]}
],
"config": {
 "font": "Liberation Sans",
 "view": {"stroke": "black", "strokeWidth": 1.5},
 "axis": {"domainColor": "black", "domainWidth": 1.5, "tickColor": "black", "tickWidth": 1.2, "labelColor": "black", "labelFontSize": 16, "gridColor": "black", "gridWidth": 1.2},
 "axisX": {"tickSize": 6, "labelPadding": 1, "labelFontSize": 15, "grid": false},
 "title": {"color": "black"}
}
}
